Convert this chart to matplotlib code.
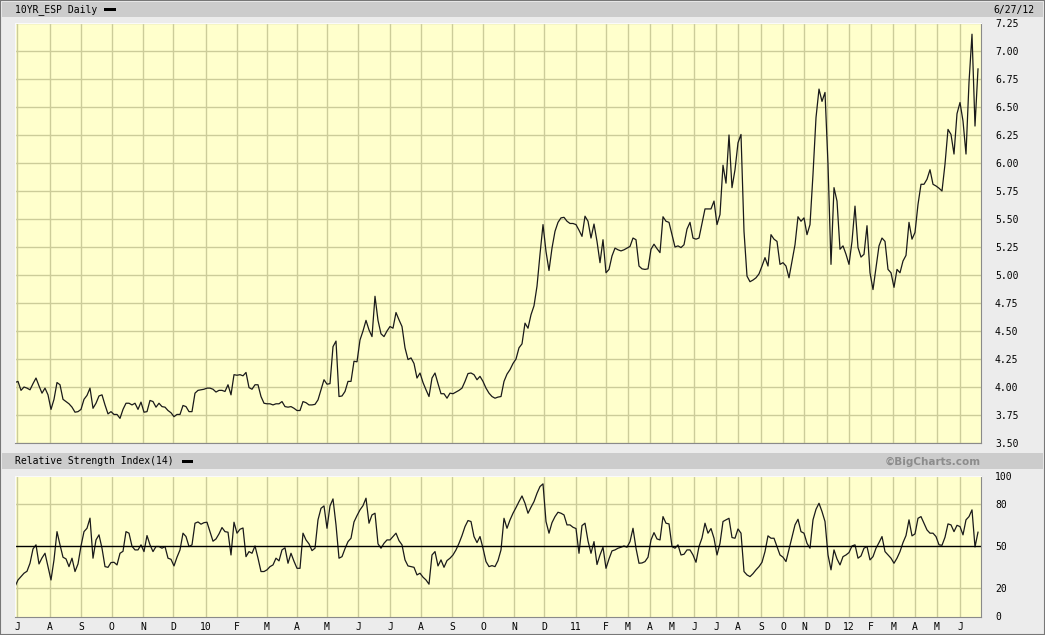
import numpy as np
import matplotlib.pyplot as plt
from matplotlib.patches import Rectangle

# 10 year Spain yield, sampled along the chart (Jul 2009 - Jun 27 2012)
price = [
    4.04, 4.05, 3.97, 4.00, 3.99, 3.975, 4.03, 4.08, 4.01, 3.945,
    3.99, 3.93, 3.80, 3.89, 4.04, 4.02, 3.89, 3.87, 3.85, 3.82,
    3.775, 3.78, 3.80, 3.89, 3.925, 3.99, 3.81, 3.855, 3.92, 3.93,
    3.84, 3.76, 3.78, 3.755, 3.755, 3.72, 3.80, 3.855, 3.855, 3.84,
    3.855, 3.80, 3.865, 3.775, 3.78, 3.88, 3.87, 3.82, 3.855, 3.825,
    3.82, 3.79, 3.77, 3.735, 3.755, 3.755, 3.835, 3.825, 3.78, 3.78,
    3.945, 3.97, 3.975, 3.98, 3.99, 3.99, 3.98, 3.955, 3.97, 3.97,
    3.96, 4.02, 3.93, 4.11, 4.105, 4.11, 4.10, 4.13, 3.995, 3.98,
    4.02, 4.02, 3.915, 3.855, 3.85, 3.85, 3.84, 3.85, 3.85, 3.87,
    3.825, 3.82, 3.825, 3.81, 3.79, 3.79, 3.87, 3.86, 3.84, 3.84,
    3.845, 3.885, 3.975, 4.065, 4.025, 4.03, 4.36, 4.41, 3.915, 3.92,
    3.96, 4.05, 4.05, 4.23, 4.225, 4.42, 4.50, 4.595, 4.51, 4.45,
    4.81, 4.595, 4.475, 4.45, 4.50, 4.54, 4.525, 4.665, 4.60, 4.54,
    4.35, 4.245, 4.26, 4.21, 4.08, 4.125, 4.04, 3.975, 3.915, 4.08,
    4.125, 4.03, 3.94, 3.94, 3.90, 3.945, 3.94, 3.955, 3.97, 3.99,
    4.05, 4.12, 4.125, 4.11, 4.065, 4.095, 4.05, 3.99, 3.945, 3.915,
    3.90, 3.91, 3.915, 4.05, 4.115, 4.155, 4.21, 4.25, 4.35, 4.385,
    4.57, 4.525, 4.645, 4.725, 4.90, 5.185, 5.45, 5.21, 5.04, 5.24,
    5.39, 5.47, 5.51, 5.515, 5.48, 5.46, 5.46, 5.45, 5.40, 5.345,
    5.525, 5.48, 5.33, 5.455, 5.30, 5.11, 5.315, 5.02, 5.05, 5.17,
    5.24, 5.225, 5.215, 5.225, 5.24, 5.255, 5.33, 5.315, 5.08, 5.055,
    5.05, 5.055, 5.23, 5.275, 5.235, 5.20, 5.52, 5.48, 5.47, 5.36,
    5.25, 5.26, 5.245, 5.27, 5.41, 5.47, 5.33, 5.32, 5.33, 5.46,
    5.59, 5.59, 5.59, 5.66, 5.45, 5.54, 5.98, 5.82, 6.25, 5.78,
    5.94, 6.18, 6.255, 5.39, 4.99, 4.94, 4.955, 4.975, 5.01, 5.08,
    5.155, 5.08, 5.36, 5.32, 5.30, 5.095, 5.11, 5.08, 4.975, 5.125,
    5.27, 5.52, 5.48, 5.51, 5.36, 5.45, 5.90, 6.405, 6.66, 6.55,
    6.63, 5.99, 5.095, 5.78, 5.66, 5.23, 5.26, 5.185, 5.095, 5.30,
    5.615, 5.245, 5.16, 5.185, 5.44, 5.02, 4.87, 5.065, 5.26, 5.33,
    5.30, 5.05, 5.02, 4.89, 5.05, 5.02, 5.125, 5.175, 5.47, 5.32,
    5.38, 5.63, 5.81, 5.81, 5.855, 5.94, 5.81, 5.795, 5.775, 5.75,
    5.99, 6.30, 6.255, 6.08, 6.44, 6.54, 6.375, 6.08, 6.72, 7.15,
    6.33, 6.84,
]

# RSI(14), same sampling
rsi = [
    21.3, 26, 28.4, 30.8, 32.2, 37.9, 48.1, 51, 37.4, 41.7,
    45, 35.5, 26, 40.3, 60.4, 51, 42.2, 41, 35.5, 41.5,
    32, 37.4, 50.2, 60.4, 62.8, 70, 41.5, 54.5, 58.1, 48.6,
    35.5, 35, 38.4, 38.6, 36.7, 45, 46.4, 60.4, 59.3, 50,
    47.4, 47.4, 51, 46.2, 57.6, 51, 46.2, 49.8, 49.8, 48.6,
    49.8, 41.5, 40.7, 36, 42.2, 47.4, 59.3, 56.9, 49.8, 51,
    66.4, 67.3, 65.7, 66.8, 67.1, 60.4, 53.6, 55.2, 58.8, 63.3,
    60.4, 60, 43.8, 67.1, 59.3, 62.1, 63, 42.6, 46.2, 45,
    50.2, 41.5, 32, 32, 33.2, 35.5, 36.7, 41.5, 39.6, 47.4,
    48.9, 37.9, 45, 39.3, 34.3, 34.3, 59.3, 54.5, 51.7, 46.9,
    48.6, 68.8, 77, 78.7, 62.8, 78.7, 83.7, 65.2, 41.5, 42.6,
    48.3, 53.3, 55.7, 67.3, 71.8, 75.9, 78.9, 84.2, 66.4, 72.3,
    73.5, 51.7, 48.6, 52.1, 54.5, 54.5, 56.9, 59.3, 54, 51,
    40.3, 36, 35.5, 35, 29.6, 30.8, 28, 26, 23, 43.8,
    46.2, 36, 40.3, 35, 39.8, 41.5, 43.8, 47.4, 52.1, 57.6,
    64, 68.3, 67.6, 56.9, 52.6, 56.9, 48.6, 39.1, 35.5, 36.2,
    35.5, 39.8, 47.4, 69.9, 62.8, 68.7, 73.5, 77.5, 81.8, 85.8,
    80.6, 73.5, 77.8, 81.8, 87.7, 92.5, 94.4, 67.6, 59.3, 66.8,
    71.1, 74.2, 73.5, 72.3, 65.2, 65.2, 63.5, 62.6, 45, 64.7,
    66.4, 53.8, 45, 53.3, 37, 43.8, 49.3, 34.3, 41, 46.7,
    47.4, 48.6, 49.3, 50.2, 49.3, 53.3, 62.8, 48.6, 37.9, 38.1,
    39.1, 42.2, 54.5, 59.7, 55.2, 54.5, 71.1, 66.4, 65.9, 49.8,
    48.6, 51, 43.8, 44.3, 47.4, 47.4, 43.8, 38.6, 49.8, 55.9,
    66.4, 59.3, 62.6, 55.7, 43.8, 52.1, 67.6, 68.8, 69.9, 56.2,
    55.7, 62.3, 59.3, 32, 29.6, 28.4, 30.5, 33.2, 35.5, 38.6,
    46.2, 57.4, 55.7, 55.7, 49.8, 43.8, 42.2, 39.1, 47.9, 56.9,
    65.2, 69.2, 60.4, 59.3, 52.1, 48.6, 68.8, 76.3, 80.6, 74.7,
    67.6, 43.8, 33.2, 47.4, 41, 36.7, 42.6, 43.8, 45.5, 50.2,
    51, 41.5, 43.1, 48.6, 49.8, 40.3, 42.6, 48.6, 52.6, 56.9,
    46.2, 43.8, 41.5, 37.9, 41.5, 46.2, 52.6, 57.6, 68.8, 57.4,
    58.8, 69.9, 71.1, 66.4, 61.6, 59.3, 59.3, 56.9, 51, 50.7,
    56.4, 65.9, 65.2, 60.4, 64.9, 64, 58.1, 68.8, 71.1, 75.9,
    49.5, 60,
]

# sample index where each month starts, and its label
month_starts = [0.7, 11.7, 22, 32.3, 42.7, 52.7, 63.7, 74, 84, 94, 104, 114.3,
                125, 135.3, 145.7, 156, 166.3, 176.3, 187, 197, 204.3, 211.7,
                219, 226.3, 233.7, 241, 248.7, 256, 263, 270.7, 278, 285.3,
                292.7, 300, 307.3, 315]
month_labels = ['J', 'A', 'S', 'O', 'N', 'D', '10', 'F', 'M', 'A', 'M', 'J',
                'J', 'A', 'S', 'O', 'N', 'D', '11', 'F', 'M', 'A', 'M', 'J',
                'J', 'A', 'S', 'O', 'N', 'D', '12', 'F', 'M', 'A', 'M', 'J']
price_ticks = np.arange(3.5, 7.26, 0.25)
rsi_ticks = [0, 20, 50, 80, 100]

W, H = 1045, 635
BG = '#ffffcc'
GRID = '#cccc99'
MONO = 'DejaVu Sans Mono'

fig = plt.figure(figsize=(W / 100, H / 100), dpi=100, facecolor='#ececec')

def fx(px):
    return px / W

def fy(py):
    return 1 - py / H

# grey header bars
for y0, y1 in [(2, 16.7), (453.3, 469.3)]:
    fig.patches.append(Rectangle((fx(2), fy(y1)), fx(1041), (y1 - y0) / H,
                                 transform=fig.transFigure, facecolor='#cccccc',
                                 edgecolor='none', zorder=0))
fig.patches.append(Rectangle((0, 0), 1, 1, transform=fig.transFigure,
                             facecolor='none', edgecolor='#777777', lw=1.5))

fig.text(fx(15), fy(9.5), '10YR_ESP Daily', family=MONO, fontsize=7, va='center')
fig.patches.append(Rectangle((fx(104), fy(11)), fx(12), 3 / H,
                             transform=fig.transFigure, facecolor='black'))
fig.text(fx(1035), fy(9.5), '6/27/12', family=MONO, fontsize=7, va='center', ha='right')
fig.text(fx(15), fy(461.5), 'Relative Strength Index(14)', family=MONO, fontsize=7, va='center')
fig.patches.append(Rectangle((fx(182), fy(463)), fx(11), 3 / H,
                             transform=fig.transFigure, facecolor='black'))
fig.text(fx(981), fy(461.5), '\u00a9BigCharts.com', fontsize=7.5, fontweight='bold',
         color='#8c8c8c', va='center', ha='right')

ax1 = fig.add_axes([fx(15), fy(443), fx(966), 420 / H])
ax2 = fig.add_axes([fx(15), fy(616.5), fx(966), 140.5 / H])

x = np.arange(len(price))

for ax in (ax1, ax2):
    ax.set_facecolor(BG)
    ax.set_xlim(0, 322)
    ax.set_xticks(month_starts)
    ax.grid(True, color=GRID, lw=1)
    ax.set_axisbelow(True)
    ax.yaxis.tick_right()
    ax.tick_params(length=0, labelsize=7, pad=10)
    for lab in ax.get_yticklabels():
        lab.set_family(MONO)
    ax.spines['left'].set_color('#fafafa')
    ax.spines['top'].set_color('#fafafa')
    ax.spines['right'].set_color('#8a8a8a')
    ax.spines['bottom'].set_color('#8a8a8a')

# price panel
ax1.plot(x, price, color='#1a1a1a', lw=0.9)
ax1.set_ylim(3.5, 7.25)
ax1.set_yticks(price_ticks)
ax1.set_yticklabels(['%.2f' % t for t in price_ticks], family=MONO)
ax1.set_xticklabels([])

# RSI panel
ax2.plot(np.arange(len(rsi)), rsi, color='#1a1a1a', lw=0.9)
ax2.axhline(50, color='black', lw=1)
ax2.set_ylim(0, 100)
ax2.set_yticks(rsi_ticks)
ax2.set_yticklabels([str(t) for t in rsi_ticks], family=MONO)
ax2.yaxis.grid(False)
for lvl in (20, 80):
    ax2.axhline(lvl, color=GRID, lw=1, zorder=0.5)
ax2.set_xticklabels(month_labels, family=MONO, fontsize=7)
ax2.tick_params(axis='x', pad=4)

plt.savefig('out.png', dpi=100, facecolor=fig.get_facecolor())
